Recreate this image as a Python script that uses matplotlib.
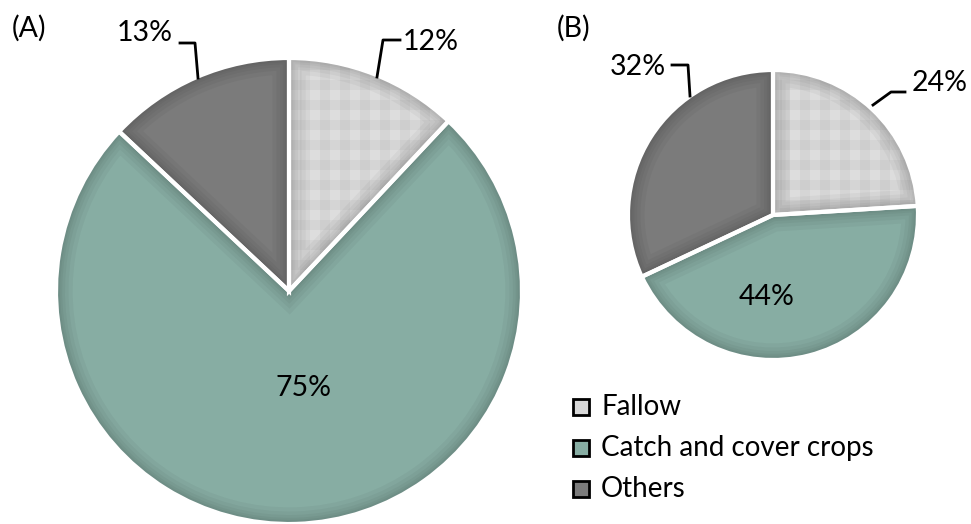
import numpy as np
import matplotlib.pyplot as plt
from matplotlib.patches import Rectangle, PathPatch

categories = ['Fallow', 'Catch and cover crops', 'Others']
shares_a = [12, 75, 13]
shares_b = [24, 44, 32]
colors = ['#d8d8d8', '#87ada3', '#7b7b7b']

plt.rcParams['font.family'] = ['Lato', 'DejaVu Sans']

fig = plt.figure(figsize=(9.71, 5.24), dpi=100)
ax = fig.add_axes([0, 0, 1, 1])


def draw_pie(values, center, radius):
    wedges, _ = ax.pie(values, colors=colors, startangle=90, counterclock=False,
                       center=center, radius=radius,
                       wedgeprops=dict(edgecolor='none', linewidth=0))
    # gingham texture on the fallow slice
    w = wedges[0]
    yy, xx = np.mgrid[0:600, 0:1000]
    tex = np.full(xx.shape, 0.865)
    tex -= 0.03 * ((xx // 10) % 2 == 0)
    tex -= 0.03 * ((yy // 10) % 2 == 0)
    im = ax.imshow(tex, cmap='gray', vmin=0, vmax=1, extent=(0, 1000, -600, 0),
                   zorder=w.get_zorder() + 0.1, interpolation='nearest')
    im.set_clip_path(w)
    # soft inner shadow along each slice edge
    for wd in wedges:
        for lw in [24, 18, 13, 9, 6, 3]:
            p = PathPatch(wd.get_path(), transform=wd.get_transform(),
                          facecolor='none', edgecolor='black', lw=lw, alpha=0.035,
                          zorder=wd.get_zorder() + 0.2)
            ax.add_patch(p)
            p.set_clip_path(wd)
        ax.add_patch(PathPatch(wd.get_path(), transform=wd.get_transform(),
                               facecolor='none', edgecolor='white', lw=3,
                               zorder=wd.get_zorder() + 0.3))
    return wedges


wa = draw_pie(shares_a, (289, -291), 233)
wb = draw_pie(shares_b, (773, -215), 145)

ax.set_xlim(0, 971)
ax.set_ylim(-524, 0)
ax.set_aspect('equal')
ax.axis('off')

fs = 20.5
# pie A labels
ax.text(403, -42, f'{shares_a[0]}%', fontsize=fs, ha='left', va='center')
ax.plot([377, 383, 400], [-77, -40, -40], color='black', lw=2)
ax.text(173, -33, f'{shares_a[2]}%', fontsize=fs, ha='right', va='center')
ax.plot([180, 195, 198], [-43, -43, -78], color='black', lw=2)
ax.text(303, -388, f'{shares_a[1]}%', fontsize=fs, ha='center', va='center')
# pie B labels
ax.text(912, -83, f'{shares_b[0]}%', fontsize=fs, ha='left', va='center')
ax.plot([873, 891, 905], [-105, -92, -92], color='black', lw=2)
ax.text(666, -67, f'{shares_b[2]}%', fontsize=fs, ha='right', va='center')
ax.plot([672, 688, 690], [-65, -65, -96], color='black', lw=2)
ax.text(767, -297, f'{shares_b[1]}%', fontsize=fs, ha='center', va='center')

ax.text(12, -28, '(A)', fontsize=fs, ha='left', va='center')
ax.text(557, -28, '(B)', fontsize=fs, ha='left', va='center')

# legend
for i, (name, c) in enumerate(zip(categories, colors)):
    y = -407 - 41 * i
    ax.add_patch(Rectangle((573, y - 8), 16, 16, facecolor=c, edgecolor='black', lw=2))
    ax.text(601, y, name, fontsize=20, ha='left', va='center')

fig.savefig('out.png', dpi=100)
